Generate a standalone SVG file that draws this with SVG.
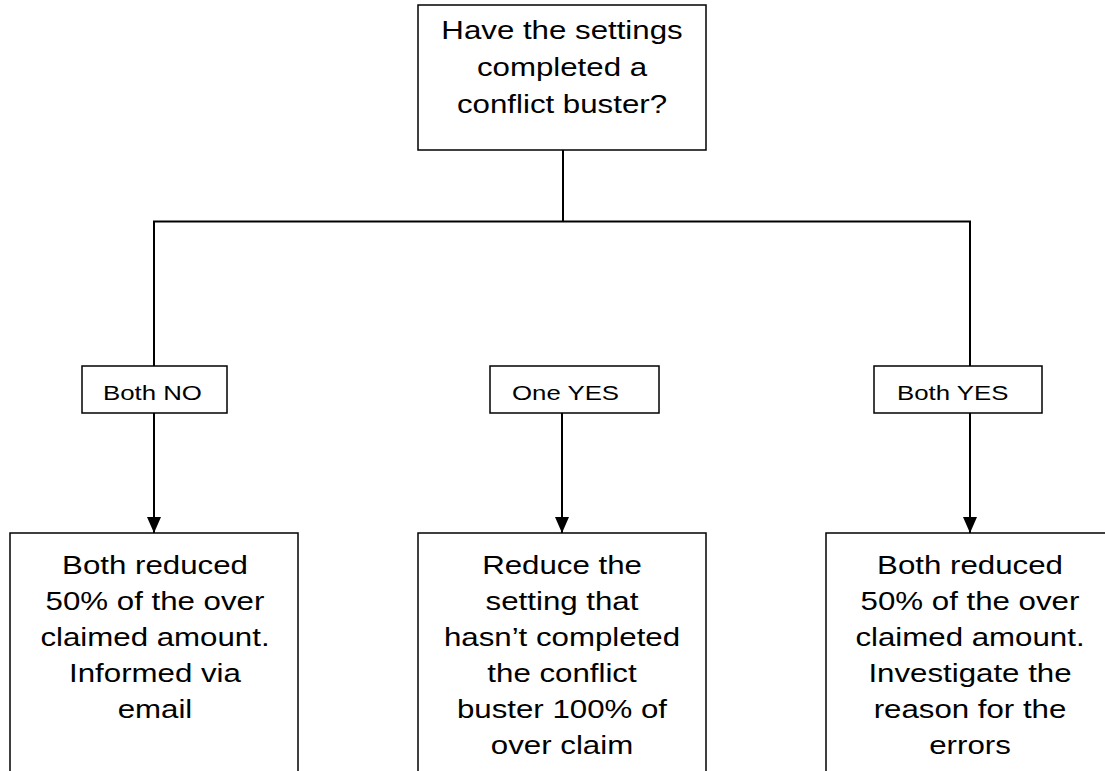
<svg xmlns="http://www.w3.org/2000/svg" width="1105" height="771" viewBox="0 0 1105 771">
  <defs>
    <style>
      .box { fill: #ffffff; stroke: #000000; stroke-width: 1.5; }
      .lbl { fill: #ffffff; stroke: #000000; stroke-width: 1.5; }
      .main { font-family: "Liberation Sans", Arial, sans-serif; font-size: 25px; fill: #000000; text-anchor: middle; }
      .small { font-family: "Liberation Sans", Arial, sans-serif; font-size: 20px; fill: #000000; text-anchor: start; }
      .conn { stroke: #000000; stroke-width: 2; fill: none; }
    </style>
    <marker id="arrow" viewBox="0 0 16 14" refX="16" refY="7" markerWidth="16" markerHeight="14" markerUnits="userSpaceOnUse" orient="auto">
      <path d="M0,0 L16,7 L0,14 Z" fill="#000000"/>
    </marker>
  </defs>
  <rect width="1105" height="771" fill="#ffffff"/>

  <g id="connectors">
    <line class="conn" x1="563" y1="150" x2="563" y2="221.5"/>
    <line class="conn" x1="153" y1="221.5" x2="971" y2="221.5"/>
    <line class="conn" x1="154" y1="221.5" x2="154" y2="366"/>
    <line class="conn" x1="970" y1="221.5" x2="970" y2="366"/>
    <line class="conn" x1="154" y1="413" x2="154" y2="533" marker-end="url(#arrow)"/>
    <line class="conn" x1="562" y1="413" x2="562" y2="533" marker-end="url(#arrow)"/>
    <line class="conn" x1="970" y1="413" x2="970" y2="533" marker-end="url(#arrow)"/>
  </g>

  <g id="node-question">
    <rect class="box" x="418" y="5" width="288" height="145"/>
    <g transform="translate(562,0) scale(1.25,1)">
      <text class="main" x="0" y="39">Have the settings</text>
      <text class="main" x="0" y="76">completed a</text>
      <text class="main" x="0" y="113">conflict buster?</text>
    </g>
  </g>

  <g id="label-both-no">
    <rect class="lbl" x="82" y="366" width="145" height="47"/>
    <text class="small" transform="translate(103,400) scale(1.29,1)" x="0" y="0">Both NO</text>
  </g>

  <g id="label-one-yes">
    <rect class="lbl" x="490" y="366" width="169" height="47"/>
    <text class="small" transform="translate(512,400) scale(1.29,1)" x="0" y="0">One YES</text>
  </g>

  <g id="label-both-yes">
    <rect class="lbl" x="874" y="366" width="168" height="47"/>
    <text class="small" transform="translate(897,400) scale(1.29,1)" x="0" y="0">Both YES</text>
  </g>

  <g id="node-both-no">
    <rect class="box" x="10" y="533" width="288" height="260"/>
    <g transform="translate(155,0) scale(1.25,1)">
      <text class="main" x="0" y="574">Both reduced</text>
      <text class="main" x="0" y="610">50% of the over</text>
      <text class="main" x="0" y="646">claimed amount.</text>
      <text class="main" x="0" y="682">Informed via</text>
      <text class="main" x="0" y="718">email</text>
    </g>
  </g>

  <g id="node-one-yes">
    <rect class="box" x="418" y="533" width="288" height="260"/>
    <g transform="translate(562,0) scale(1.25,1)">
      <text class="main" x="0" y="574">Reduce the</text>
      <text class="main" x="0" y="610">setting that</text>
      <text class="main" x="0" y="646">hasn’t completed</text>
      <text class="main" x="0" y="682">the conflict</text>
      <text class="main" x="0" y="718">buster 100% of</text>
      <text class="main" x="0" y="754">over claim</text>
    </g>
  </g>

  <g id="node-both-yes">
    <rect class="box" x="826" y="533" width="288" height="260"/>
    <g transform="translate(970,0) scale(1.25,1)">
      <text class="main" x="0" y="574">Both reduced</text>
      <text class="main" x="0" y="610">50% of the over</text>
      <text class="main" x="0" y="646">claimed amount.</text>
      <text class="main" x="0" y="682">Investigate the</text>
      <text class="main" x="0" y="718">reason for the</text>
      <text class="main" x="0" y="754">errors</text>
    </g>
  </g>
</svg>
